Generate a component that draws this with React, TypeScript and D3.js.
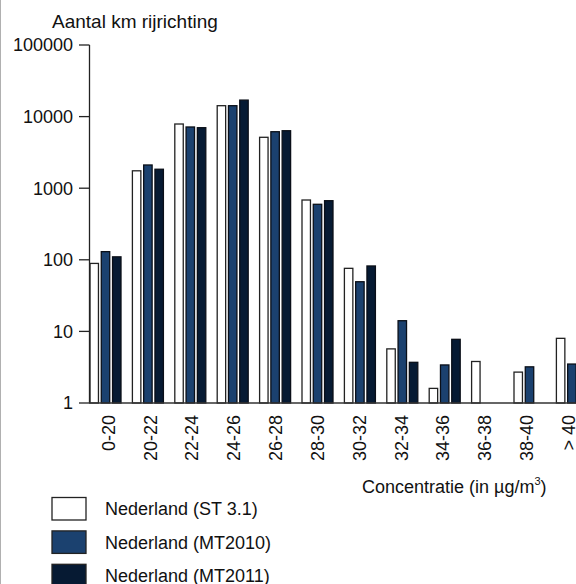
import React from "react";
import * as d3 from "d3";

const categories = ["0-20", "20-22", "22-24", "24-26", "26-28", "28-30", "30-32", "32-34", "34-36", "36-38", "38-40", "> 40"];
const seriesNames = ["Nederland (ST 3.1)", "Nederland (MT2010)", "Nederland (MT2011)"];
const st31 = [89, 1750, 7880, 14200, 5140, 684, 76, 5.7, 1.6, 3.8, 2.7, 8.0];
const mt2010 = [130, 2110, 7160, 14200, 6150, 596, 49.4, 14.1, 3.4, 1, 3.2, 3.5];
const mt2011 = [110, 1840, 7000, 17000, 6350, 669, 82, 3.7, 7.75, 1, 1, 3.0];
const yTicks = [1, 10, 100, 1000, 10000, 100000];
const colors = ["#ffffff", "#1b416f", "#061a33"];

const W = 576;
const H = 584;
const FONT = "'Liberation Sans', Arial, sans-serif";

export default function App() {
  const series = [st31, mt2010, mt2011];
  const y = d3.scaleLog().domain([1, 100000]).range([403, 45]);
  const step = 42.4;
  const groupW = 31;
  const x = d3
    .scaleBand<string>()
    .domain(categories)
    .range([90, 90 + 11 * step + groupW])
    .paddingInner((step - groupW) / step)
    .paddingOuter(0);
  const xs = d3
    .scaleBand<number>()
    .domain([0, 1, 2])
    .range([0, x.bandwidth()])
    .paddingInner(0.25);
  const xl = d3.scalePoint<string>().domain(categories).range([105.5, 565.5]);

  return (
    <svg
      width={W}
      height={H}
      style={{ position: "absolute", left: 0, top: 0, background: "#fff" }}
      fontFamily={FONT}
    >
      <rect x={0} y={0} width={W} height={H} fill="#fff" />
      <line x1={0.5} x2={0.5} y1={0} y2={H} stroke="#b0b0b0" strokeWidth={1} />
      <text x={52} y={28} fontSize={19} fill="#111">Aantal km rijrichting</text>

      {/* bars */}
      {categories.map((c, i) => (
        <g key={c} transform={`translate(${x(c)},0)`}>
          {series.map((s, j) => {
            const v = s[i];
            const top = y(v);
            return (
              <rect
                key={j}
                x={xs(j)}
                y={top}
                width={xs.bandwidth()}
                height={403 - top}
                fill={colors[j]}
                stroke={j === 0 ? "#222" : "#0a0f18"}
                strokeWidth={1.3}
              />
            );
          })}
        </g>
      ))}

      {/* y axis */}
      <line x1={89.5} x2={89.5} y1={y(100000)} y2={403} stroke="#222" strokeWidth={1.3} />
      {yTicks.map((t) => (
        <g key={t}>
          <line x1={79} x2={89.5} y1={y(t)} y2={y(t)} stroke="#222" strokeWidth={1.3} />
          <text x={73} y={y(t)} dy="0.35em" textAnchor="end" fontSize={18} fill="#111">
            {String(t)}
          </text>
        </g>
      ))}

      {/* x axis */}
      <line x1={89} x2={W} y1={403} y2={403} stroke="#333" strokeWidth={1.5} />
      {categories.map((c) => (
        <text
          key={c}
          transform={`translate(${(xl(c) as number) + 3},415) rotate(-90)`}
          dy="0.35em"
          textAnchor="end"
          fontSize={18}
          fill="#111"
        >
          {c}
        </text>
      ))}
      <text x={362} y={493} fontSize={18} fill="#111">
        Concentratie (in µg/m<tspan fontSize={11} dy={-8}>3</tspan>
        <tspan dy={8}>)</tspan>
      </text>

      {/* legend */}
      {seriesNames.map((n, j) => (
        <g key={n} transform={`translate(0,${497.5 + j * 33.4})`}>
          <rect x={52} y={0} width={34} height={22.5} fill={colors[j]} stroke="#222" strokeWidth={1.3} />
          <text x={105} y={11.5} dy="0.35em" fontSize={18} fill="#111">{n}</text>
        </g>
      ))}
    </svg>
  );
}
